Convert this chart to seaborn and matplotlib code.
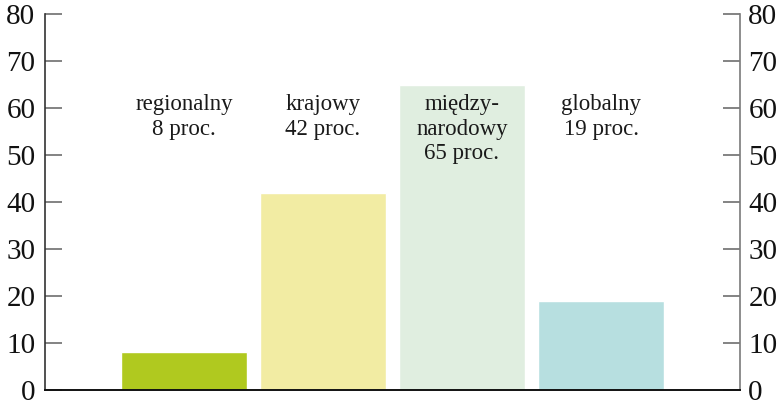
import matplotlib
matplotlib.use("Agg")
import matplotlib.pyplot as plt
import seaborn as sns
import pandas as pd

categories = ["regionalny", "krajowy", "między-\nnarodowy", "globalny"]
values = [8, 42, 65, 19]
labels = ["regionalny\n8 proc.", "krajowy\n42 proc.", "między-\nnarodowy\n65 proc.", "globalny\n19 proc."]
colors = ["#b0c91f", "#f2eca3", "#e0eee0", "#b7dfe0"]
yticks = [0, 10, 20, 30, 40, 50, 60, 70, 80]

sns.set_style("white")
plt.rcParams["font.family"] = ["Liberation Serif", "DejaVu Serif"]

df = pd.DataFrame({"cat": categories, "val": values})

fig = plt.figure(figsize=(7.81, 4.05), dpi=100)
ax = fig.add_axes([45/781, 15/405, 695/781, 376/405])
sns.barplot(data=df, x="cat", y="val", hue="cat", palette=colors, width=0.9,
            saturation=1, legend=False, ax=ax)
ax.set_xlim(-1, 4)
ax.set_ylim(0, 80)
ax.set_xlabel("")
ax.set_ylabel("")
ax.set_xticks([])
ax.set_yticks(yticks)
ax.tick_params(axis="y", direction="in", length=12.5, width=1.3, color="#7a7a7a",
               labelsize=21, pad=7, labelcolor="#111111")
for s in ["top", "right"]:
    ax.spines[s].set_visible(False)
ax.spines["left"].set_color("#333333")
ax.spines["left"].set_linewidth(1.2)
ax.spines["bottom"].set_visible(False)

for i, t in enumerate(labels):
    ax.text(i, 62.9, t, ha="center", va="top", fontsize=16.5, linespacing=1.2,
            color="#1a1a1a")

ax2 = ax.twinx()
ax2.set_ylim(0, 80)
ax2.set_yticks(yticks)
ax2.tick_params(axis="y", direction="in", length=12.5, width=1.3, color="#7a7a7a",
                labelsize=21, pad=6, labelcolor="#111111")
for s in ["top", "left"]:
    ax2.spines[s].set_visible(False)
ax2.spines["right"].set_color("#7a7a7a")
ax2.spines["right"].set_linewidth(1.2)
ax2.spines["bottom"].set_color("#111111")
ax2.spines["bottom"].set_linewidth(1.4)
ax2.spines["bottom"].set_zorder(5)

fig.savefig("out.png", dpi=100)
